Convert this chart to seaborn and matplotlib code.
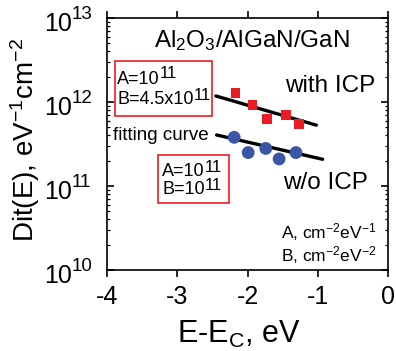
import matplotlib
matplotlib.use("Agg")
import matplotlib.pyplot as plt
from matplotlib.patches import Rectangle
import seaborn as sns
import pandas as pd

# ---- data ----
e_icp = [-2.17, -1.93, -1.72, -1.45, -1.27]
dit_icp = [1.29e12, 9.2e11, 6.3e11, 7.0e11, 5.5e11]
e_noicp = [-2.19, -1.99, -1.74, -1.55, -1.31]
dit_noicp = [3.8e11, 2.5e11, 2.8e11, 2.1e11, 2.5e11]
fit_e_icp = [-2.45, -1.02]
fit_dit_icp = [1.18e12, 5.3e11]
fit_e_noicp = [-2.44, -0.93]
fit_dit_noicp = [4.05e11, 2.08e11]
x_ticks = [-4, -3, -2, -1, 0]
x_tick_labels = ["-4", "-3", "-2", "-1", "0"]
y_ticks = [1e10, 1e11, 1e12, 1e13]
y_tick_exps = ["10", "11", "12", "13"]

sns.set_theme(style="ticks")
plt.rcParams["font.family"] = ["Liberation Sans", "DejaVu Sans"]
plt.rcParams["mathtext.fontset"] = "custom"
plt.rcParams["mathtext.rm"] = "Liberation Sans"
plt.rcParams["mathtext.it"] = "Liberation Sans:italic"
plt.rcParams["mathtext.bf"] = "Liberation Sans:bold"
plt.rcParams["mathtext.default"] = "regular"
for k in ["text.color", "axes.labelcolor", "xtick.color", "ytick.color",
          "axes.edgecolor"]:
    plt.rcParams[k] = "black"

DPI = 100
fig = plt.figure(figsize=(3.96, 3.51), dpi=DPI)
W, H = 396, 351
L, R, T, B = 107, 388, 18, 270
ax = fig.add_axes([L / W, 1 - B / H, (R - L) / W, (B - T) / H])

RED = "#EC1C24"
BLUE = "#3A56A7"

df_icp = pd.DataFrame({"E": e_icp, "Dit": dit_icp})
df_no = pd.DataFrame({"E": e_noicp, "Dit": dit_noicp})
df_fit_icp = pd.DataFrame({"E": fit_e_icp, "Dit": fit_dit_icp})
df_fit_no = pd.DataFrame({"E": fit_e_noicp, "Dit": fit_dit_noicp})

sns.lineplot(data=df_fit_icp, x="E", y="Dit", color="black", lw=2.4, ax=ax,
             estimator=None, legend=False)
sns.lineplot(data=df_fit_no, x="E", y="Dit", color="black", lw=2.4, ax=ax,
             estimator=None, legend=False)
sns.scatterplot(data=df_icp, x="E", y="Dit", marker="s", s=48, color=RED,
                edgecolor="none", ax=ax, zorder=3, legend=False)
sns.scatterplot(data=df_no, x="E", y="Dit", marker="o", s=85, color=BLUE,
                edgecolor="none", ax=ax, zorder=3, legend=False)

ax.set_yscale("log")
ax.set_xlim(-4, 0)
ax.set_ylim(1e10, 1e13)
ax.set_xlabel("")
ax.set_ylabel("")
for sp in ax.spines.values():
    sp.set_visible(True)
    sp.set_linewidth(1.2)
    sp.set_color("black")

ax.set_xticks(x_ticks, labels=x_tick_labels)
ax.tick_params(axis="x", direction="out", top=True, length=5, width=1.2,
               labelsize=18, pad=6, colors="black")
ax.tick_params(axis="y", which="major", direction="in", right=True, length=5,
               width=1.2, labelleft=False, colors="black")
ax.tick_params(axis="y", which="minor", direction="in", right=True, length=2.5,
               width=0.9, colors="black")

px = 72 / DPI  # points per pixel

# y tick labels: 10 with large exponent
for v, ex in zip(y_ticks, y_tick_exps):
    base = ax.annotate("10", xy=(0, v), xycoords=ax.get_yaxis_transform(),
                       xytext=(-35 * px, -6 * px), textcoords="offset points",
                       ha="right", va="center", fontsize=18)
    ax.annotate(ex, xy=(1, 0.5), xycoords=base, xytext=(0, 9 * px),
                textcoords="offset points", ha="left", va="center", fontsize=13.5)

def ax_pt(xp, yp):
    return ((xp - L) / (R - L), (B - yp) / (B - T))

def sup_text(xp, yp, base, exp, fs=13, efs=12, rise=5):
    x, y = ax_pt(xp, yp)
    t = ax.text(x, y, base, transform=ax.transAxes, fontsize=fs, ha="left",
                va="center", zorder=5)
    ax.annotate(exp, xy=(1, 0.5), xycoords=t, xytext=(0, rise * px),
                textcoords="offset points", ha="left", va="center", fontsize=efs,
                zorder=5)

# boxes
for (x0, y0, x1, y1) in [(115, 61, 212, 116), (158, 155, 229, 203)]:
    a0 = ax_pt(x0, y1)
    a1 = ax_pt(x1, y0)
    ax.add_patch(Rectangle(a0, a1[0] - a0[0], a1[1] - a0[1], transform=ax.transAxes,
                           facecolor="white", edgecolor=RED, lw=1.2, clip_on=False,
                           zorder=4))

sup_text(117, 79, "A=10", "11")
sup_text(117, 100, "B=4.5x10", "11")
sup_text(162, 172, "A=10", "11")
sup_text(162, 190, "B=10", "11")

x, y = ax_pt(252, 41)
ax.text(x, y, "Al$_2$O$_3$/AlGaN/GaN", transform=ax.transAxes, fontsize=17.5,
        ha="center", va="center")
x, y = ax_pt(285, 86)
ax.text(x, y, "with ICP", transform=ax.transAxes, fontsize=17.5, ha="left", va="center")
x, y = ax_pt(283, 183)
ax.text(x, y, "w/o ICP", transform=ax.transAxes, fontsize=17.5, ha="left", va="center")
x, y = ax_pt(113, 135)
ax.text(x, y, "fitting curve", transform=ax.transAxes, fontsize=13.5, ha="left",
        va="center")
x, y = ax_pt(377, 232)
ax.text(x, y, "A, cm$^{-2}$eV$^{-1}$", transform=ax.transAxes, fontsize=12.5,
        ha="right", va="center")
x, y = ax_pt(377, 255)
ax.text(x, y, "B, cm$^{-2}$eV$^{-2}$", transform=ax.transAxes, fontsize=12.5,
        ha="right", va="center")

fig.text(25 / W, 1 - 140 / H, "Dit(E), eV$^{-1}$cm$^{-2}$", rotation=90,
         fontsize=20, ha="center", va="center")
fig.text(239 / W, 1 - 334 / H, "E-E$_C$, eV", fontsize=22, ha="center", va="center")

fig.savefig("out.png", dpi=DPI)
